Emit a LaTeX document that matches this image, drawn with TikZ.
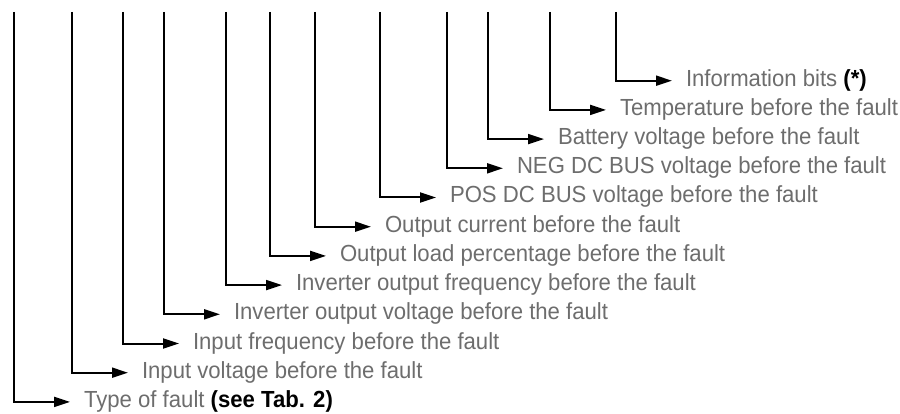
\documentclass[tikz,border=0pt]{standalone}
\usepackage{fontspec}
\setmainfont[FakeStretch=0.95]{Liberation Sans}
\usetikzlibrary{arrows.meta}
\definecolor{labelgray}{HTML}{6D6D6D}

\begin{document}
\begin{tikzpicture}[
			x = 1pt, y = -1pt, % pixel-like units, y going down
			> = {Triangle[length=16pt,width=10pt]}, % arrow head style
			line width = 2pt, % line style
			miter limit = 10,
			font=\fontsize{23.3}{27}\selectfont
			]
			
			\tikzstyle{field}=[
			anchor = west,
			inner xsep = 14pt,
			inner ysep = 0pt,
			outer sep = 0pt,
			text height = 17pt,
			text depth = 6pt,
			text = labelgray
			]
			
			\useasboundingbox (0,0) rectangle (900,414);
			
			% tops of the branches
			\coordinate (ttype) at (14,12);
			\coordinate (tinvolt) at (72,12);
			\coordinate (tinfreq) at (123,12);
			\coordinate (toutvolt) at (164,12);
			\coordinate (toutfreq) at (226,12);
			\coordinate (tload) at (270,12);
			\coordinate (tcurrent) at (315,12);
			\coordinate (tposbus) at (380,12);
			\coordinate (tnegbus) at (447,12);
			\coordinate (tbattery) at (488,12);
			\coordinate (ttemp) at (550,12);
			\coordinate (tinfo) at (616,12);
			
			% labels
			\node[field] (info) at (672,80.7) {Information bits \textbf{\color{black}(*)}};
			\node[field] (temp) at (606,109.9) {Temperature before the fault};
			\node[field] (battery) at (544,139.1) {Battery voltage before the fault};
			\node[field] (negbus) at (503,168.3) {NEG DC BUS voltage before the fault};
			\node[field] (posbus) at (436,197.5) {POS DC BUS voltage before the fault};
			\node[field] (current) at (371,226.7) {Output current before the fault};
			\node[field] (load) at (326,255.9) {Output load percentage before the fault};
			\node[field] (outfreq) at (282,285.1) {Inverter output frequency before the fault};
			\node[field] (outvolt) at (220,314.3) {Inverter output voltage before the fault};
			\node[field] (infreq) at (179,343.5) {Input frequency before the fault};
			\node[field] (involt) at (128,372.7) {Input voltage before the fault};
			\node[field] (type) at (70,401.9) {Type of fault \textbf{\color{black}(see Tab. 2)}};
			
			\draw[->] (tinfo) |- (info);
			\draw[->] (ttemp) |- (temp);
			\draw[->] (tbattery) |- (battery);
			\draw[->] (tnegbus) |- (negbus);
			\draw[->] (tposbus) |- (posbus);
			\draw[->] (tcurrent) |- (current);
			\draw[->] (tload) |- (load);
			\draw[->] (toutfreq) |- (outfreq);
			\draw[->] (toutvolt) |- (outvolt);
			\draw[->] (tinfreq) |- (infreq);
			\draw[->] (tinvolt) |- (involt);
			\draw[->] (ttype) |- (type);
		\end{tikzpicture}
\end{document}
